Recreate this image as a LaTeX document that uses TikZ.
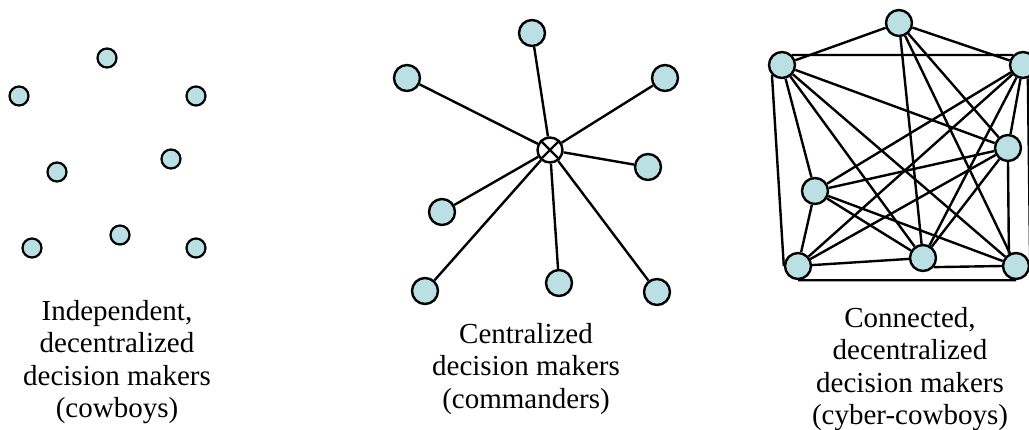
\documentclass[tikz,border=0pt]{standalone}
\usepackage{fontspec}
\setmainfont{Liberation Serif}
\definecolor{dotfill}{RGB}{187,224,227}

\begin{document}
\begin{tikzpicture}[
     x=0.5pt, y=-0.5pt,
     % define styles
     agent/.style={
         draw, circle, fill=dotfill, line width=1.2pt,
         inner sep=0pt, minimum size=13pt
     },
     loner/.style={
         agent, line width=1.1pt, minimum size=9.5pt
     },
     hub/.style={
         draw, circle, fill=white, line width=1.2pt,
         inner sep=0pt, minimum size=12.5pt
     },
     caption/.style={
         align=center, inner sep=0pt, anchor=north,
         font=\fontsize{14.5}{16.2}\selectfont
     },
     link/.style={line width=1.2pt}
]
\useasboundingbox (0,0) rectangle (1029,429);

% independent decision makers, no links
\node[loner] (a1) at (107,58)  {};
\node[loner] (a2) at (19,96)   {};
\node[loner] (a3) at (196,96)  {};
\node[loner] (a4) at (171,159) {};
\node[loner] (a5) at (57,172)  {};
\node[loner] (a6) at (32,248)  {};
\node[loner] (a7) at (120,235) {};
\node[loner] (a8) at (196,248) {};
\node[caption] (capa) at (117,300)
    {Independent,\\decentralized\\decision makers\\(cowboys)};

% centralized: everybody reports to the hub
\node[hub] (hub) at (550,150) {};
\node[agent] (c1) at (532,33)  {};
\node[agent] (c2) at (407,78)  {};
\node[agent] (c3) at (665,78)  {};
\node[agent] (c4) at (648,167) {};
\node[agent] (c5) at (442,212) {};
\node[agent] (c6) at (425,291) {};
\node[agent] (c7) at (559,283) {};
\node[agent] (c8) at (657,292) {};
\draw[link] (hub.45) -- (hub.-135) (hub.135) -- (hub.-45);
\draw[link] (hub) -- (c1) (hub) -- (c2) (hub) -- (c3) (hub) -- (c4)
            (hub) -- (c5) (hub) -- (c6) (hub) -- (c7) (hub) -- (c8);
\node[caption] (capc) at (526,323)
    {Centralized\\decision makers\\(commanders)};

% connected decision makers
\node[agent] (top)      at (899,23)   {};
\node[agent] (upleft)   at (782,65)   {};
\node[agent] (upright)  at (1023,65)  {};
\node[agent] (right)    at (1008,148) {};
\node[agent] (left)     at (815,191)  {};
\node[agent] (lowleft)  at (798,266)  {};
\node[agent] (lowmid)   at (923,258)  {};
\node[agent] (lowright) at (1016,266) {};
\draw[link] (top) -- (upleft) (top) -- (upright) (top) -- (right)
            (top) -- (lowmid) (top) -- (lowright);
\draw[link] (upleft.45) -- (upright.135) (upleft) -- (right)
            (upleft) -- (left) (upleft.south west) -- (lowleft.west)
            (upleft) -- (lowmid) (upleft) -- (lowright);
\draw[link] (upright) -- (right) (upright) -- (left) (upright) -- (lowleft)
            (upright) -- (lowmid) (upright.-70) -- (lowright.east);
\draw[link] (right) -- (left) (right) -- (lowleft) (right) -- (lowmid)
            (right.south) -- (lowright.120);
\draw[link] (left) -- (lowleft) (left) -- (lowmid) (left) -- (lowright);
\draw[link] (lowleft) -- (lowmid) (lowleft.south) -- (lowright.south);
\draw[link] (lowmid.-40) -- (lowright.west);
\node[caption] (capr) at (910,307)
    {Connected,\\decentralized\\decision makers\\(cyber-cowboys)};
\end{tikzpicture}
\end{document}
